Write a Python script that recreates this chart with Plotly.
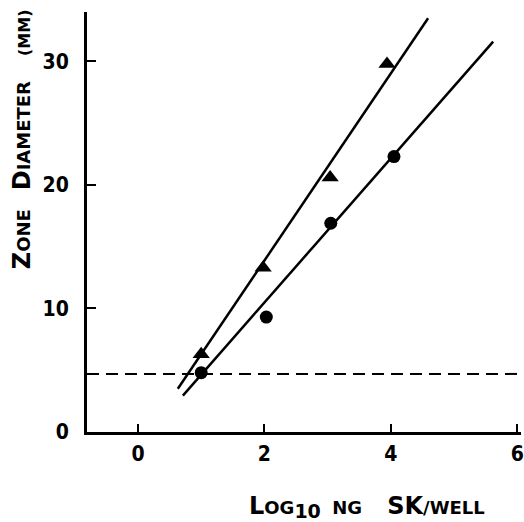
import plotly.graph_objects as go

# Data
tri_x = [1.0, 1.98, 3.04, 3.94]
tri_y = [6.3, 13.3, 20.6, 29.8]
cir_x = [1.0, 2.03, 3.05, 4.05]
cir_y = [4.8, 9.3, 16.9, 22.3]

# fitted lines (endpoints as drawn)
tri_fit_x = [0.63, 4.59]
tri_fit_y = [3.5, 33.5]
cir_fit_x = [0.71, 5.62]
cir_fit_y = [2.95, 31.6]

threshold_y = 4.7
x_range = [-0.807, 6.06]
y_range = [0, 34]
x_ticks = [0, 2, 4, 6]
y_ticks = [0, 10, 20, 30]
x_ticktext = ["<b>0</b>", "<b>2</b>", "<b>4</b>", "<b>6</b>"]
y_ticktext = ["<b>0</b>", "<b>10</b>", "<b>20</b>", "<b>30</b>"]

FONT = "DejaVu Sans Condensed"
LFONT = "DejaVu Sans"

fig = go.Figure()
fig.add_trace(go.Scatter(x=x_range, y=[threshold_y, threshold_y], mode="lines",
                         line=dict(color="black", width=2, dash="12px,7px"),
                         showlegend=False, hoverinfo="skip"))
fig.add_trace(go.Scatter(x=tri_fit_x, y=tri_fit_y, mode="lines",
                         line=dict(color="black", width=2.5), showlegend=False))
fig.add_trace(go.Scatter(x=cir_fit_x, y=cir_fit_y, mode="lines",
                         line=dict(color="black", width=2.5), showlegend=False))
fig.add_trace(go.Scatter(x=tri_x, y=tri_y, mode="markers",
                         marker=dict(symbol="triangle-up", size=15, color="black"),
                         showlegend=False))
fig.add_trace(go.Scatter(x=cir_x, y=cir_y, mode="markers",
                         marker=dict(symbol="circle", size=13, color="black"),
                         showlegend=False))

big = 24
small = 18
nb = "&nbsp;"
ylab = (f"<b><span style='font-size:{big}px'>Z</span>ONE{nb*3}"
        f"<span style='font-size:{big}px'>D</span>IAMETER{nb*4}"
        f"<span style='font-size:16px'>(MM)</span></b>")
xlab = (f"<b><span style='font-size:{big}px'>L</span>OG</b>"
        f"<sub><b><span style='font-size:19px'>10</span></b></sub>{nb*2}<b>NG{nb*4}"
        f"<span style='font-size:{big}px'>SK</span>/WELL</b>")

fig.add_annotation(text=ylab, xref="paper", yref="paper", x=-0.15, y=0.697,
                   xanchor="center", yanchor="middle", textangle=-90, showarrow=False,
                   font=dict(family=LFONT, size=small, color="black"))
fig.add_annotation(text=xlab, xref="paper", yref="paper", x=0.645, y=-0.137,
                   xanchor="center", yanchor="top", showarrow=False,
                   font=dict(family=LFONT, size=small, color="black"))

fig.update_layout(
    width=524, height=522,
    margin=dict(l=87, r=3, t=12, b=90, autoexpand=False),
    paper_bgcolor="white", plot_bgcolor="white",
    font=dict(family=FONT, size=20, color="black"),
    xaxis=dict(range=x_range, tickvals=x_ticks, ticktext=x_ticktext, ticks="inside",
               ticklen=8, tickwidth=2,
               tickcolor="black", showline=True, linecolor="black", linewidth=3,
               showgrid=False, zeroline=False, ticklabelstandoff=1, automargin=False,
               tickfont=dict(family=FONT, size=21)),
    yaxis=dict(range=y_range, tickvals=y_ticks, ticktext=y_ticktext, ticks="inside",
               ticklen=9, tickwidth=2,
               tickcolor="black", showline=True, linecolor="black", linewidth=3,
               showgrid=False, zeroline=False, ticklabelstandoff=11, automargin=False,
               tickfont=dict(family=FONT, size=21)),
)

fig.write_html("out.html", config={"displayModeBar": False},
               post_script="document.body.style.margin='0px';document.body.style.overflow='hidden';")
